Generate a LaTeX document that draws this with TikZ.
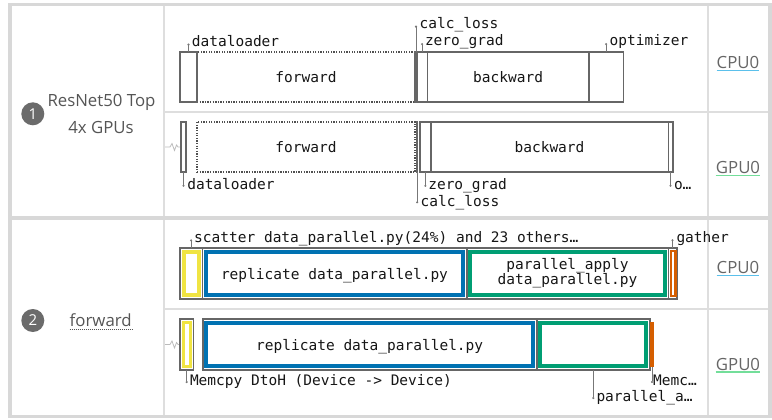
\documentclass[tikz,border=0pt]{standalone}
\usepackage{fontspec}
\setmainfont{Open Sans}
\setmonofont{DejaVu Sans Mono}
\usetikzlibrary{calc,arrows.meta}

\definecolor{framegray}{HTML}{D8D8D8}
\definecolor{gridgray}{HTML}{DEDEDE}
\definecolor{boxline}{HTML}{666666}
\definecolor{dotline}{HTML}{505050}
\definecolor{tickgray}{HTML}{777777}
\definecolor{txt}{HTML}{161616}
\definecolor{labelgray}{HTML}{555555}
\definecolor{devgray}{HTML}{666666}
\definecolor{badgegray}{HTML}{6B6B6B}
\definecolor{squig}{HTML}{BBBBBB}
\definecolor{oiyellow}{HTML}{F0E442}
\definecolor{oiblue}{HTML}{0072B2}
\definecolor{oigreen}{HTML}{009E73}
\definecolor{oiorange}{HTML}{D55E00}
\definecolor{cpuline}{HTML}{5BC0EB}
\definecolor{gpuline}{HTML}{73DE9A}

\newcommand\tlmono{\ttfamily\fontsize{14.5}{15}\selectfont}
\newcommand\tlsans{\rmfamily\fontsize{16.8}{19}\selectfont}

\begin{document}
\begin{tikzpicture}[x=1pt,y=-1pt,
  slot/.style={draw=boxline, line width=1.6pt, fill=white, inner sep=0pt, outer sep=0pt,
               anchor=north west, text depth=0pt, font=\tlmono, text=txt},
  dotslot/.style={slot, draw=dotline, line width=1.4pt, dash pattern=on 1.3pt off 1.3pt},
  sz/.style 2 args={minimum width=#1pt, minimum height=#2pt},
  band/.style={line width=4pt},
  lab/.style={anchor=base west, inner sep=0pt, font=\tlmono, text=txt},
  tickline/.style={draw=tickgray, line width=0.8pt, -{Circle[length=2pt]}},
  gridline/.style={draw=gridgray, line width=2pt},
  badge/.style={circle, fill=badgegray, text=white, minimum size=23pt, inner sep=0pt,
                font=\rmfamily\fontsize{15}{17}\selectfont},
  side/.style={anchor=base, inner sep=0pt, font=\tlsans, text=labelgray},
  dev/.style={anchor=base, inner sep=0pt, font=\tlsans, text=devgray},
  squiggle/.style={draw=squig, line width=0.8pt},
]
\useasboundingbox (0,0) rectangle (772,420);
\fill[white] (0,0) rectangle (772,420);

% table frame and grid
\draw[gridline] (164,4.5) -- (164,416);
\draw[gridline] (708,4.5) -- (708,416);
\draw[gridline] (164,112) -- (770,112);
\draw[gridline] (164,309) -- (770,309);
\draw[draw=framegray, line width=4pt] (10,218) -- (770,218);
\draw[draw=framegray, line width=3.5pt] (10,4.5) rectangle (770,416.3);

% left column
\node[badge] (b1) at (32.8,113.8) {1};
\node[side] (rn1) at (101.5,106.7) {ResNet50 Top};
\node[side] (rn2) at (101,133.3) {4x GPUs};
\node[badge] (b2) at (32.8,320.5) {2};
\node[side] (fw2) at (100.7,326.7) {forward};
\draw[draw=labelgray, line width=0.8pt, dash pattern=on 1pt off 1pt]
  ($(fw2.base west)+(0,2.8)$) -- ($(fw2.base east)+(0,2.8)$);

% right column
\node[dev] (cpu1) at (738,68.3) {CPU0};
\node[dev] (gpu1) at (738,173.3) {GPU0};
\node[dev] (cpu2) at (738,273.3) {CPU0};
\node[dev] (gpu2) at (738,370) {GPU0};
\foreach \d/\c in {cpu1/cpuline, gpu1/gpuline, cpu2/cpuline, gpu2/gpuline}
  \draw[draw=\c, line width=1.5pt] ($(\d.base west)+(0,2.2)$) -- ($(\d.base east)+(0,2.2)$);

% ---- section 1, CPU0 ----
\node[dotslot, sz={218}{50}] (fwc) at (197,52) {forward};
\node[slot, sz={17}{50}] (dlc) at (180,52) {};
\node[slot, sz={2}{50}] (clc) at (415,52) {};
\node[slot, sz={10.3}{50}] (zgc) at (417,52) {};
\node[slot, sz={161.7}{50}] (bwc) at (427.3,52) {backward};
\node[slot, sz={34.3}{50}] (opc) at (589,52) {};

\node[lab] (dlcL) at (191.7,46.3) {dataloader};
\node[lab] (clcL) at (419.5,28.3) {calc\_loss};
\node[lab] (zgcL) at (424.8,45.8) {zero\_grad};
\node[lab] (opcL) at (609.5,45.8) {optimizer};
\draw[tickline] (dlc.north) -- (dlc.north |- dlcL.mid);
\draw[tickline] (clc.north) -- (clc.north |- clcL.mid);
\draw[tickline] (zgc.north) -- (zgc.north |- zgcL.mid);
\draw[tickline] (opc.north) -- (opc.north |- opcL.mid);

% ---- section 1, GPU0 ----
\draw[squiggle] (165,147) -- (170,147) -- (172,143.5) -- (174.5,150.5) -- (176.5,145) -- (178,147) -- (181,147);
\node[dotslot, sz={218}{50}] (fwg) at (197,122) {forward};
\node[slot, sz={5}{50}] (dlg) at (181,122) {};
\node[slot, sz={0.8}{50}] (clg) at (416.8,122) {};
\node[slot, sz={10.7}{50}] (zgg) at (420,122) {};
\node[slot, sz={237.6}{50}] (bwg) at (430.7,122) {backward};
\node[slot, sz={4.4}{50}] (opg) at (668.3,122) {};

\node[lab] (dlgL) at (187.1,189.5) {dataloader};
\node[lab] (zggL) at (428.1,189.5) {zero\_grad};
\node[lab] (clgL) at (420.5,206) {calc\_loss};
\node[lab] (opgL) at (673.8,189.5) {o…};
\draw[tickline] (dlg.south) -- (dlg.south |- dlgL.mid);
\draw[tickline] (zgg.south) -- (zgg.south |- zggL.mid);
\draw[tickline] (clg.south) -- (clg.south |- clgL.mid);
\draw[tickline] (opg.south) -- (opg.south |- opgL.mid);

% ---- section 2, CPU0 ----
\node[slot, sz={22.3}{51}] (scc) at (180,248) {};
\node[slot, sz={264.4}{51}] (rpc) at (202.3,248) {replicate data\_parallel.py};
\node[slot, sz={201.6}{51}, align=center, text depth={}] (pac) at (466.7,248)
  {parallel\_apply\\data\_parallel.py};
\node[slot, sz={8.4}{51}] (gac) at (668.3,248) {};
\draw[band, draw=oiyellow] ($(scc.north west)+(3.8,3.8)$) rectangle ($(scc.south east)+(-3.8,-3.8)$);
\draw[band, draw=oiblue] ($(rpc.north west)+(3.6,3.6)$) rectangle ($(rpc.south east)+(-3.6,-3.6)$);
\draw[band, draw=oigreen] ($(pac.north west)+(3.6,3.6)$) rectangle ($(pac.south east)+(-3.6,-3.6)$);
\draw[draw=oiorange, line width=2.8pt] ($(gac.north west)+(2.7,3)$) rectangle ($(gac.south east)+(-1.2,-3)$);

\node[lab] (sccL) at (194,242) {scatter data\_parallel.py(24\%) and 23 others…};
\node[lab] (gacL) at (676.3,242) {gather};
\draw[tickline] (scc.north) -- (scc.north |- sccL.mid);
\draw[tickline] (gac.north) -- (gac.north |- gacL.mid);

% ---- section 2, GPU0 ----
\draw[squiggle] (165,344.5) -- (170,344.5) -- (172,341) -- (174.5,348) -- (176.5,342.5) -- (178,344.5) -- (181,344.5);
\node[slot, sz={13.3}{51}] (mcg) at (180,319) {};
\node[slot, sz={334}{51}] (rpg) at (202.7,319) {replicate data\_parallel.py};
\node[slot, sz={113.3}{51}] (pag) at (536.7,319) {};
\node[fill=oiorange, anchor=north west, inner sep=0pt, outer sep=0pt, sz={4}{45}] (mmg) at (650,322) {};
\draw[draw=oiyellow, line width=2.8pt] ($(mcg.north west)+(3.2,3.2)$) rectangle ($(mcg.south east)+(-3.2,-3.2)$);
\draw[band, draw=oiblue] ($(rpg.north west)+(3.6,3.6)$) rectangle ($(rpg.south east)+(-3.6,-3.6)$);
\draw[band, draw=oigreen] ($(pag.north west)+(3.6,3.6)$) rectangle ($(pag.south east)+(-3.6,-3.6)$);

\node[lab] (mcgL) at (189.8,385.7) {Memcpy DtoH (Device -> Device)};
\node[lab] (mmgL) at (653,385.7) {Memc…};
\node[lab] (pagL) at (596.3,401.7) {parallel\_a…};
\draw[tickline] (mcg.south) -- (mcg.south |- mcgL.mid);
\draw[tickline] (mmg.south) -- (mmg.south |- mmgL.mid);
\draw[tickline] (pag.south) -- (pag.south |- pagL.mid);
\end{tikzpicture}
\end{document}
